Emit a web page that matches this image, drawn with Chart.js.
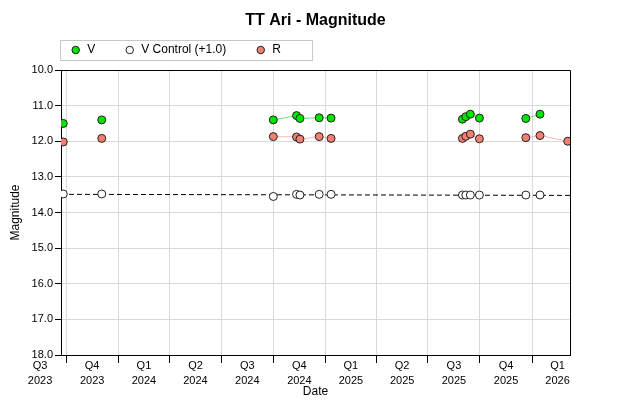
<!DOCTYPE html>
<html><head><meta charset="utf-8">
<script src="https://cdn.jsdelivr.net/npm/chart.js@4.4.1/dist/chart.umd.min.js"></script>
<style>html,body{margin:0;padding:0;background:#fff}canvas{display:block}</style>
</head><body>
<canvas id="c" width="630" height="405"></canvas>
<script>
// ---- data ----
const obsDates = ['2023-09-26','2023-12-03','2024-10-01','2024-11-11','2024-11-17','2024-12-21','2025-01-11',
                  '2025-08-31','2025-09-06','2025-09-14','2025-09-30','2025-12-21','2026-01-15','2026-03-05'];
const vMag        = [11.50, 11.40, 11.40, 11.28, 11.36, 11.34, 11.35, 11.38, 11.31, 11.24, 11.35, 11.36, 11.24, null];
const vControlMag = [13.48, 13.48, 13.55, 13.49, 13.51, 13.49, 13.49, 13.51, 13.51, 13.51, 13.51, 13.51, 13.51, null];
const rMag        = [12.02, 11.92, 11.87, 11.88, 11.94, 11.87, 11.92, 11.92, 11.86, 11.80, 11.93, 11.90, 11.84, 12.00];
const trendDates = ['2023-09-22', '2026-03-09'];
const trendMag   = [13.49, 13.52];
const xRange = ['2023-09-22', '2026-03-09'];
const quarterStarts = ['2023-07-01','2023-10-01','2024-01-01','2024-04-01','2024-07-01','2024-10-01',
                       '2025-01-01','2025-04-01','2025-07-01','2025-10-01','2026-01-01','2026-04-01'];
const quarterLabels = [['Q3','2023'],['Q4','2023'],['Q1','2024'],['Q2','2024'],['Q3','2024'],['Q4','2024'],
                       ['Q1','2025'],['Q2','2025'],['Q3','2025'],['Q4','2025'],['Q1','2026']];
const yMin = 10, yMax = 18, yStep = 1;
const maxGapDays = 60;

// ---- helpers ----
const day = s => { const [y, m, d] = s.split('-').map(Number); return Date.UTC(y, m - 1, d) / 864e5; };
const xMin = day(xRange[0]), xMax = day(xRange[1]);
const series = vals => obsDates.map((d, i) => ({x: day(d), y: vals[i]})).filter(p => p.y !== null);
const qDays = quarterStarts.map(day);
const boundaryTicks = qDays.filter(v => v >= xMin && v <= xMax);
const labelTicks = quarterLabels.map((l, i) => (qDays[i] + qDays[i + 1]) / 2);
const labelMap = new Map(labelTicks.map((v, i) => [v, quarterLabels[i]]));
const boundarySet = new Set(boundaryTicks);
const gapColor = ctx => (ctx.p1.parsed.x - ctx.p0.parsed.x > maxGapDays ? 'rgba(0,0,0,0)' : undefined);
const isBoundary = c => c.tick && boundarySet.has(c.tick.value);

Chart.defaults.font.family = "'Liberation Sans', Arial, sans-serif";
Chart.defaults.color = '#000';

const framePlugin = {
  id: 'frame',
  afterLayout(chart) {
    const lg = chart.legend;
    if (lg) { lg.left = 41.2; lg.top = 15; }
  },
  beforeDraw(chart) {
    const lg = chart.legend, ctx = chart.ctx;
    if (!lg) return;
    ctx.save();
    ctx.strokeStyle = '#c8c8c8';
    ctx.lineWidth = 1;
    ctx.strokeRect(Math.round(lg.left + 19) + 0.5, Math.round(lg.top + 25) + 0.5, 252, 20);
    ctx.restore();
  },
  afterDraw(chart) {
    const a = chart.chartArea, ctx = chart.ctx;
    ctx.save();
    ctx.strokeStyle = '#000';
    ctx.lineWidth = 1;
    ctx.beginPath();
    ctx.moveTo(a.left, a.top + 0.5);
    ctx.lineTo(a.right + 0.5, a.top + 0.5);
    ctx.lineTo(a.right + 0.5, a.bottom);
    ctx.stroke();
    ctx.restore();
  }
};

new Chart(document.getElementById('c'), {
  type: 'line',
  data: {
    datasets: [
      { label: 'V', data: series(vMag), borderColor: 'rgba(0,200,0,0.55)', borderWidth: 1,
        pointBackgroundColor: '#00e400', pointBorderColor: '#222', pointBorderWidth: 1, pointRadius: 4,
        segment: { borderColor: gapColor } },
      { label: 'V Control (+1.0)', data: series(vControlMag), showLine: false,
        pointBackgroundColor: '#ffffff', pointBorderColor: '#222', pointBorderWidth: 1, pointRadius: 4 },
      { label: 'R', data: series(rMag), borderColor: 'rgba(240,128,112,0.55)', borderWidth: 1,
        pointBackgroundColor: '#f08070', pointBorderColor: '#222', pointBorderWidth: 1, pointRadius: 4,
        segment: { borderColor: gapColor } },
      { label: 'trend', data: trendDates.map((d, i) => ({x: day(d), y: trendMag[i]})),
        borderColor: '#000', borderWidth: 1, borderDash: [5, 3], pointRadius: 0 }
    ]
  },
  options: {
    responsive: false,
    animation: false,
    layout: { padding: { left: 0, right: 60, top: 0, bottom: 0 } },
    plugins: {
      title: { display: true, text: 'TT Ari - Magnitude', fullSize: false, color: '#000',
               font: { size: 16, weight: 'bold' }, padding: { top: 10.5, bottom: 0 } },
      legend: {
        position: 'top', align: 'start', maxHeight: 40.3,
        labels: { usePointStyle: true, pointStyle: 'circle', boxWidth: 11, boxHeight: 5.3, padding: 29,
                  color: '#000', font: { size: 12 }, filter: item => item.datasetIndex < 3 }
      },
      tooltip: { enabled: false }
    },
    scales: {
      x: {
        type: 'linear', min: xMin, max: xMax,
        afterBuildTicks: s => { s.ticks = [...boundaryTicks, ...labelTicks].sort((a, b) => a - b).map(v => ({value: v})); },
        afterFit: s => { s.height = 50; },
        ticks: { autoSkip: false, maxRotation: 0, minRotation: 0, padding: -4, color: '#000',
                 font: { size: 11, lineHeight: 1.32 }, callback: v => labelMap.get(v) || '' },
        grid: { color: c => isBoundary(c) ? '#d9d9d9' : 'rgba(0,0,0,0)',
                tickColor: c => isBoundary(c) ? '#000' : 'rgba(0,0,0,0)', tickLength: 8 },
        border: { color: '#000', width: 1 },
        title: { display: true, text: 'Date', color: '#000', font: { size: 12 }, padding: { top: 0, bottom: 6 } }
      },
      y: {
        type: 'linear', reverse: true, min: yMin, max: yMax,
        afterFit: s => { s.width = 61; },
        ticks: { stepSize: yStep, padding: 2, color: '#000', font: { size: 11 }, callback: v => Number(v).toFixed(1) },
        grid: { color: '#d9d9d9', tickColor: '#000', tickLength: 6 },
        border: { color: '#000', width: 1 },
        title: { display: true, text: 'Magnitude', color: '#000', font: { size: 12 }, padding: { top: 8, bottom: 0 } }
      }
    }
  },
  plugins: [framePlugin]
});
</script>
</body></html>
